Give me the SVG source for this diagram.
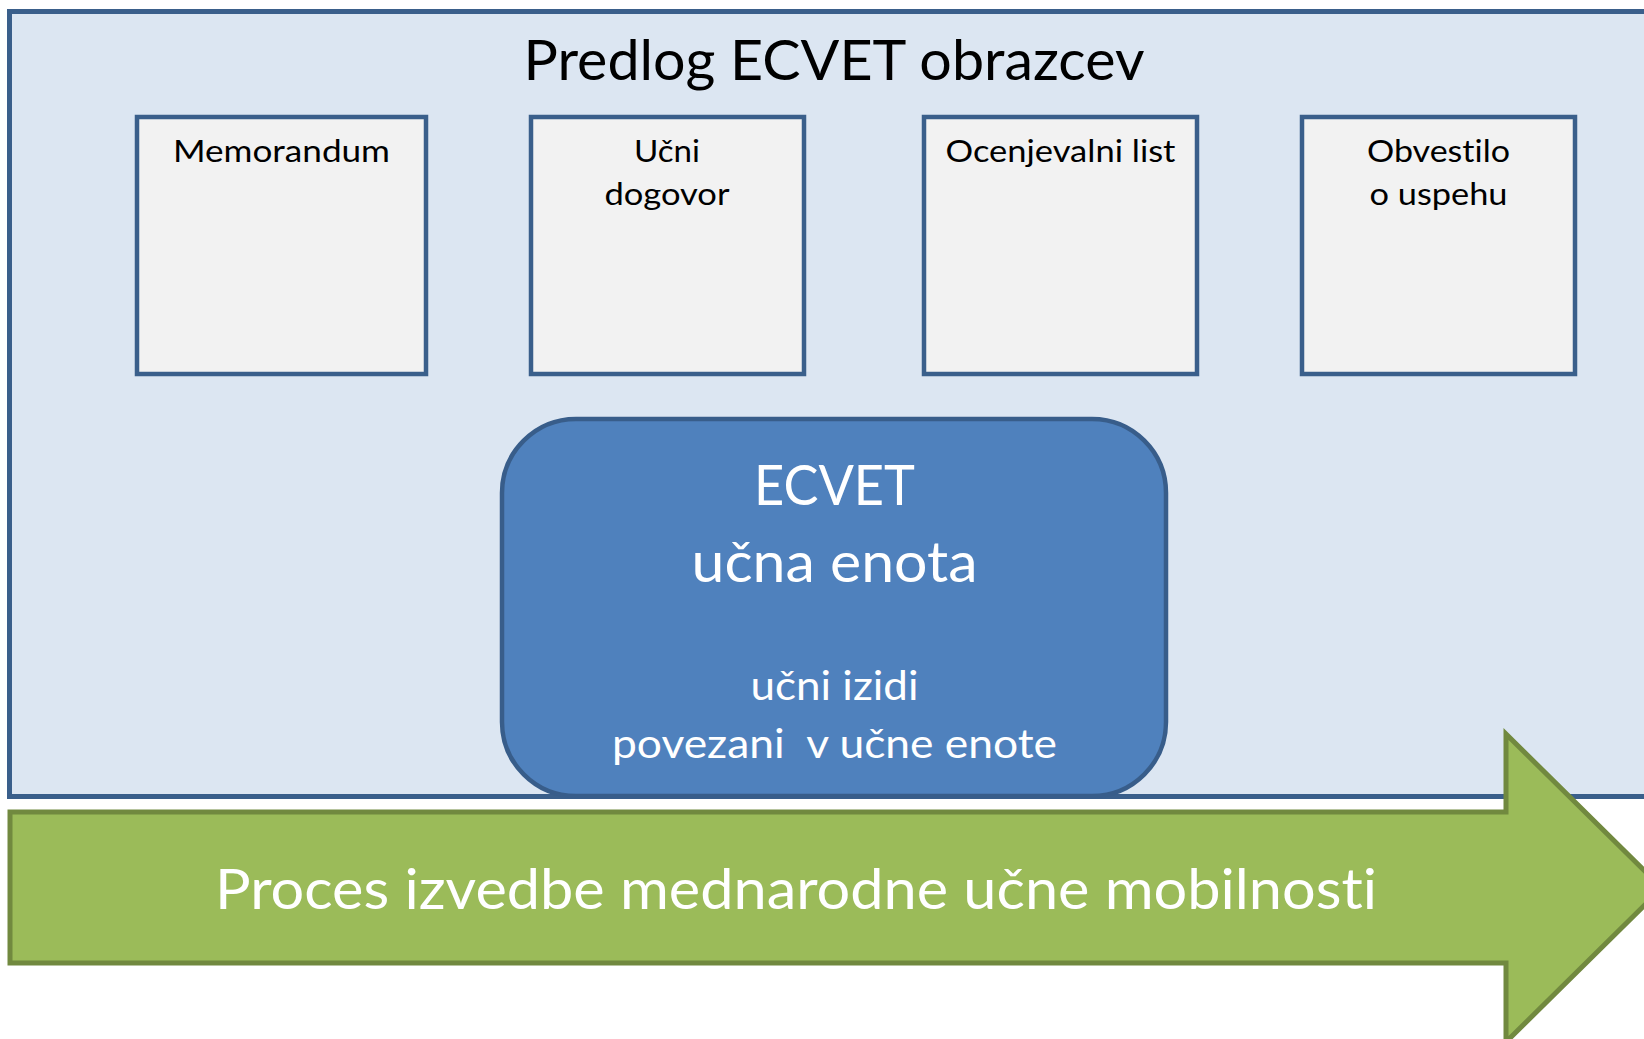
<svg xmlns="http://www.w3.org/2000/svg" width="1644" height="1039" viewBox="0 0 1644 1039">
<style>
.outer{fill:#DCE6F2;stroke:#3A5F8B;stroke-width:5}
.doc{fill:#F2F2F2;stroke:#3A5F8B;stroke-width:4.5}
.unit{fill:#4F81BD;stroke:#385D8A;stroke-width:4.5}
.arrow{fill:#9BBB59;stroke:#71893F;stroke-width:5}
text{font-family:Lato,"Open Sans","Liberation Sans",sans-serif;text-anchor:middle;font-variant-ligatures:none;font-feature-settings:"liga" 0}
.t-dark{fill:#000000}
.t-white{fill:#FFFFFF}
</style>
<g id="frame">
<rect class="outer" x="9.5" y="11.5" width="1700" height="785"/>
<text class="t-dark" x="834" y="80" font-size="56" textLength="621" lengthAdjust="spacingAndGlyphs">Predlog ECVET obrazcev</text>
</g>
<g id="memorandum">
<rect class="doc" x="137" y="117" width="289" height="257"/>
<text class="t-dark" x="281.5" y="162" font-size="31" textLength="217" lengthAdjust="spacingAndGlyphs">Memorandum</text>
</g>
<g id="ucni-dogovor">
<rect class="doc" x="531" y="117" width="273" height="257"/>
<text class="t-dark" x="667" y="162" font-size="31" textLength="66" lengthAdjust="spacingAndGlyphs">Učni</text>
<text class="t-dark" x="667" y="205" font-size="31" textLength="125" lengthAdjust="spacingAndGlyphs">dogovor</text>
</g>
<g id="ocenjevalni-list">
<rect class="doc" x="924" y="117" width="273" height="257"/>
<text class="t-dark" x="1060.5" y="162" font-size="31" textLength="230" lengthAdjust="spacingAndGlyphs">Ocenjevalni list</text>
</g>
<g id="obvestilo">
<rect class="doc" x="1302" y="117" width="273" height="257"/>
<text class="t-dark" x="1438.5" y="162" font-size="31" textLength="143" lengthAdjust="spacingAndGlyphs">Obvestilo</text>
<text class="t-dark" x="1438.5" y="205" font-size="31" textLength="138" lengthAdjust="spacingAndGlyphs">o uspehu</text>
</g>
<g id="process-arrow">
<path class="arrow" d="M10,812 L1506,812 L1506,734 L1662,888 L1506,1042 L1506,963 L10,963 Z"/>
<text class="t-white" x="796" y="909" font-size="57" textLength="1162" lengthAdjust="spacingAndGlyphs">Proces izvedbe mednarodne učne mobilnosti</text>
</g>
<g id="ecvet-unit">
<rect class="unit" x="502" y="419" width="664" height="377" rx="74" ry="74"/>
<text class="t-white" x="834.5" y="505" font-size="56" textLength="161" lengthAdjust="spacingAndGlyphs">ECVET</text>
<text class="t-white" x="834.5" y="582" font-size="56" textLength="286" lengthAdjust="spacingAndGlyphs">učna enota</text>
<text class="t-white" x="834.5" y="700" font-size="40" textLength="168" lengthAdjust="spacingAndGlyphs">učni izidi</text>
<text class="t-white" x="834.5" y="758" font-size="40" textLength="445" lengthAdjust="spacingAndGlyphs" xml:space="preserve">povezani  v učne enote</text>
</g>
<g id="connectors"/>
</svg>
